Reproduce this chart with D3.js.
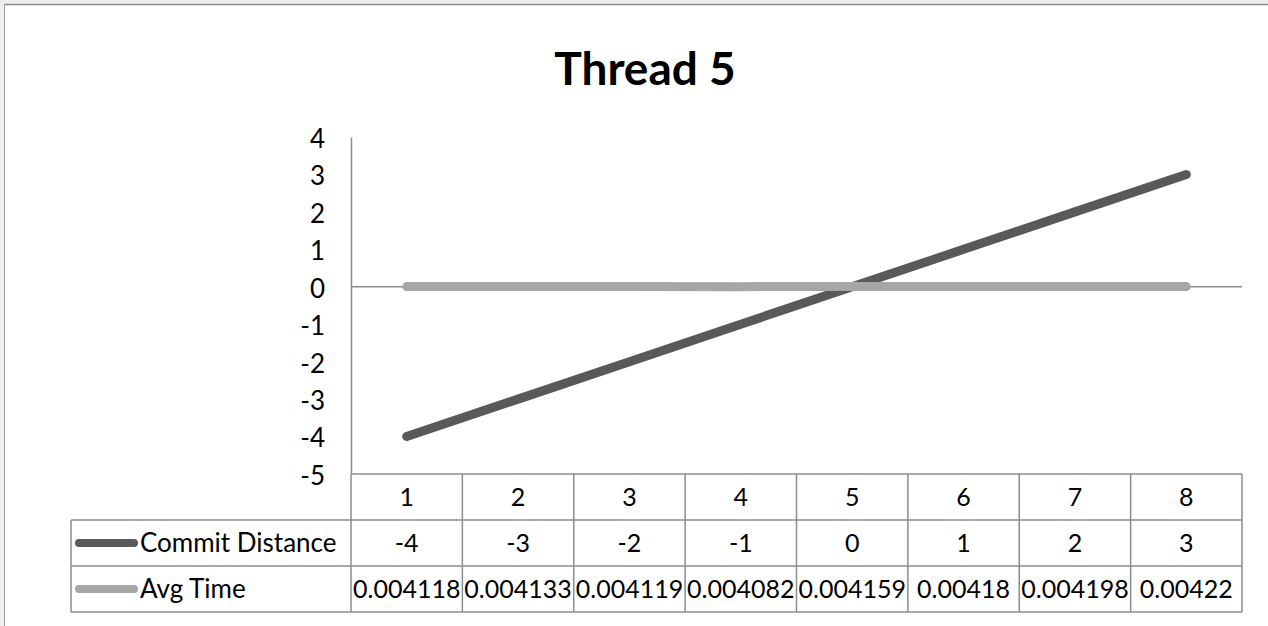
<!DOCTYPE html>
<html>
<head>
<meta charset="utf-8">
<script src="https://cdn.jsdelivr.net/npm/d3@7"></script>
<style>
  body { margin: 0; background: #fff; }
  svg { display: block; font-family: Lato, "Open Sans", sans-serif; }
</style>
</head>
<body>
<div id="svg-container"></div>
<script>
////////////////////////////  Data  ///////////////////////////////
const categories = ["1", "2", "3", "4", "5", "6", "7", "8"];
const commitDistance = [-4, -3, -2, -1, 0, 1, 2, 3];
const avgTime = [0.004118, 0.004133, 0.004119, 0.004082, 0.004159, 0.00418, 0.004198, 0.00422];
const avgTimeLabels = ["0.004118", "0.004133", "0.004119", "0.004082", "0.004159", "0.00418", "0.004198", "0.00422"];
const yTicks = [4, 3, 2, 1, 0, -1, -2, -3, -4, -5];

const series = [
  { name: "Commit Distance", values: commitDistance, labels: commitDistance.map(String), color: "#595959" },
  { name: "Avg Time", values: avgTime, labels: avgTimeLabels, color: "#a6a6a6" }
];

////////////////////////////  Init  ///////////////////////////////
const width = 1268, height = 626;
const margin = { top: 137, right: 26, left: 351, bottom: 152 };
const tableLeft = 71;
const rowH = [46, 46, 46];
const fontSize = 25;

const svg = d3.select("#svg-container").append("svg")
  .attr("width", width).attr("height", height);

// spreadsheet frame
svg.append("rect").attr("x", 0).attr("y", 0).attr("width", width).attr("height", 4).attr("fill", "#efefef");
svg.append("rect").attr("x", 0).attr("y", 0).attr("width", 4).attr("height", height).attr("fill", "#efefef");
svg.append("line").attr("x1", 4).attr("x2", width).attr("y1", 4.5).attr("y2", 4.5).attr("stroke", "#8c8c8c").attr("stroke-width", 1.5);
svg.append("line").attr("x1", 4.5).attr("x2", 4.5).attr("y1", 4).attr("y2", height).attr("stroke", "#a0a0a0").attr("stroke-width", 1);

// title
svg.append("text")
  .attr("x", 645).attr("y", 85)
  .attr("text-anchor", "middle")
  .attr("font-size", 46).attr("font-weight", "bold")
  .attr("fill", "#000")
  .text("Thread 5");

// scales
const xScale = d3.scaleBand().domain(categories).range([margin.left, width - margin.right]);
const yScale = d3.scaleLinear().domain([-5, 4]).range([height - margin.bottom, margin.top]);

// y axis
const yAxis = d3.axisLeft(yScale).tickValues(yTicks).tickSize(0).tickPadding(26).tickFormat(String);
const gy = svg.append("g").attr("transform", `translate(${margin.left},0)`).call(yAxis);
gy.select(".domain").attr("stroke", "#8c8c8c").attr("stroke-width", 1.5);
gy.selectAll("text").attr("font-size", 26).attr("font-family", "Lato, sans-serif").attr("fill", "#000").attr("dy", "0.4em");

// zero line (category axis)
svg.append("line")
  .attr("x1", margin.left).attr("x2", width - margin.right)
  .attr("y1", yScale(0)).attr("y2", yScale(0))
  .attr("stroke", "#8c8c8c").attr("stroke-width", 1.5);

// lines (Avg Time drawn last, on top)
const line = d3.line()
  .x((d, i) => xScale(categories[i]) + xScale.bandwidth() / 2)
  .y((d) => yScale(d));

svg.selectAll(".series")
  .data(series)
  .join("path")
  .attr("class", "series")
  .attr("d", (s) => line(s.values))
  .attr("fill", "none")
  .attr("stroke", (s) => s.color)
  .attr("stroke-width", 9)
  .attr("stroke-linecap", "round");

////////////////////////////  Data table  ////////////////////////
const table = svg.append("g");
const y0 = yScale(-5);
const rowTop = [y0, y0 + rowH[0], y0 + rowH[0] + rowH[1]];
const tableBottom = rowTop[2] + rowH[2];
const gridColor = "#8c8c8c";

// horizontal rules
table.append("line").attr("x1", margin.left).attr("x2", width - margin.right).attr("y1", y0).attr("y2", y0);
[rowTop[1], rowTop[2], tableBottom].forEach((y) => {
  table.append("line").attr("x1", tableLeft).attr("x2", width - margin.right).attr("y1", y).attr("y2", y);
});
// vertical rules
table.append("line").attr("x1", tableLeft).attr("x2", tableLeft).attr("y1", rowTop[1]).attr("y2", tableBottom);
categories.forEach((c) => {
  table.append("line").attr("x1", xScale(c)).attr("x2", xScale(c)).attr("y1", y0).attr("y2", tableBottom);
});
table.append("line").attr("x1", width - margin.right).attr("x2", width - margin.right).attr("y1", y0).attr("y2", tableBottom);
table.selectAll("line").attr("stroke", gridColor).attr("stroke-width", 1.5);

// header row
table.selectAll(".cat")
  .data(categories)
  .join("text")
  .attr("class", "cat")
  .attr("x", (d) => xScale(d) + xScale.bandwidth() / 2)
  .attr("y", rowTop[0] + rowH[0] / 2)
  .attr("dy", "0.36em")
  .attr("text-anchor", "middle")
  .attr("font-size", fontSize)
  .text((d) => d);

// series rows
series.forEach((s, r) => {
  const yc = rowTop[r + 1] + rowH[r + 1] / 2;
  table.append("line")
    .attr("x1", 79).attr("x2", 134).attr("y1", yc).attr("y2", yc)
    .attr("stroke", s.color).attr("stroke-width", 8).attr("stroke-linecap", "round");
  table.append("text")
    .attr("x", 140).attr("y", yc).attr("dy", "0.36em")
    .attr("font-size", 26)
    .text(s.name);
  table.selectAll(".v" + r)
    .data(s.labels)
    .join("text")
    .attr("class", "v" + r)
    .attr("x", (d, i) => xScale(categories[i]) + xScale.bandwidth() / 2)
    .attr("y", yc).attr("dy", "0.36em")
    .attr("text-anchor", "middle")
    .attr("font-size", fontSize)
    .text((d) => d);
});
</script>
</body>
</html>
